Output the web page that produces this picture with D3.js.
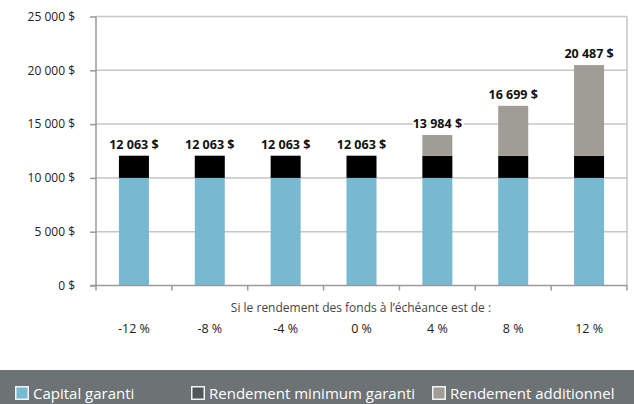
<!DOCTYPE html>
<meta charset="utf-8">
<script src="https://d3js.org/d3.v7.min.js"></script>
<style>
  body { margin: 0; background: #fff; }
  svg { display: block; font-family: "Open Sans", sans-serif; }
</style>
<body>
<div id="canvas"></div>
<script>
// donnees ---------------------------------------------------
var categories = ["-12 %", "-8 %", "-4 %", "0 %", "4 %", "8 %", "12 %"];
var capital = [10000, 10000, 10000, 10000, 10000, 10000, 10000];
var minimum = [2063, 2063, 2063, 2063, 2063, 2063, 2063];
var additionnel = [0, 0, 0, 0, 1921, 4636, 8424];
var totaux = ["12 063 $", "12 063 $", "12 063 $", "12 063 $", "13 984 $", "16 699 $", "20 487 $"];
var yTicks = [0, 5000, 10000, 15000, 20000, 25000];
var series = ["Capital garanti", "Rendement minimum garanti", "Rendement additionnel"];
var couleurs = ["#77b9d1", "#000000", "#a09d96"];
var xTitre = "Si le rendement des fonds à l’échéance est de :";

var width = 634, height = 404;
var svg = d3.select("#canvas").append("svg")
    .attr("width", width).attr("height", height);

var x = d3.scaleBand().domain(categories).range([96, 627]);
var y = d3.scaleLinear().domain([0, 25000]).range([285.5, 16.5]);
var fmt = function(d) { return d3.format(",")(d).replace(/,/g, " ") + " $"; };

// grille -----------------------------------------------------
svg.append("g").selectAll("line")
    .data(yTicks.filter(function(d) { return d > 0; }))
    .enter().append("line")
    .attr("x1", 96).attr("x2", 627)
    .attr("y1", function(d) { return y(d); })
    .attr("y2", function(d) { return y(d); })
    .attr("stroke", "#c6c6c6").attr("stroke-width", 1.5);

// bordure droite
svg.append("line")
    .attr("x1", 627).attr("x2", 627)
    .attr("y1", y(25000)).attr("y2", y(0))
    .attr("stroke", "#c6c6c6").attr("stroke-width", 1.5);

// axe Y
var yAxis = d3.axisLeft(y).tickValues(yTicks).tickSize(6).tickPadding(15).tickFormat(fmt);
var gy = svg.append("g").attr("transform", "translate(96,0)").call(yAxis);
gy.select(".domain").attr("stroke", "#9a9a9a").attr("stroke-width", 1.5).attr("d", "M0," + y(25000) + "V" + y(0));
gy.selectAll(".tick line").attr("stroke", "#9a9a9a").attr("stroke-width", 1.5);
gy.selectAll("text").attr("font-size", 12).attr("fill", "#222").attr("font-family", "Open Sans");

// barres empilees -------------------------------------------
var table = categories.map(function(c, i) {
    return { cat: c, capital: capital[i], minimum: minimum[i], additionnel: additionnel[i] };
});
var stack = d3.stack().keys(["capital", "minimum", "additionnel"])(table);
var bw = 30;
svg.append("g").selectAll("g")
    .data(stack).enter().append("g")
    .attr("fill", function(d, i) { return couleurs[i]; })
    .selectAll("rect")
    .data(function(d) { return d; })
    .enter().append("rect")
    .attr("x", function(d) { return x(d.data.cat) + x.bandwidth() / 2 - bw / 2; })
    .attr("width", bw)
    .attr("y", function(d) { return y(d[1]); })
    .attr("height", function(d) { return y(d[0]) - y(d[1]); });

// axe X
var gx = svg.append("g");
gx.append("line").attr("x1", 90).attr("x2", 627)
    .attr("y1", y(0)).attr("y2", y(0))
    .attr("stroke", "#9a9a9a").attr("stroke-width", 1.5);
gx.selectAll(".tk").data(categories.concat(["fin"])).enter().append("line")
    .attr("x1", function(d, i) { return 96 + i * x.step(); })
    .attr("x2", function(d, i) { return 96 + i * x.step(); })
    .attr("y1", y(0)).attr("y2", y(0) + 5)
    .attr("stroke", "#9a9a9a").attr("stroke-width", 1.5);
gx.selectAll(".cat").data(categories).enter().append("text")
    .attr("x", function(d) { return x(d) + x.bandwidth() / 2; })
    .attr("y", 333)
    .attr("text-anchor", "middle")
    .attr("font-size", 12.5).attr("fill", "#222")
    .text(function(d) { return d; });
svg.append("text")
    .attr("x", 361).attr("y", 312)
    .attr("text-anchor", "middle")
    .attr("font-size", 12).attr("fill", "#444")
    .text(xTitre);

// etiquettes des totaux
svg.append("g").selectAll("text")
    .data(table).enter().append("text")
    .attr("x", function(d) { return x(d.cat) + x.bandwidth() / 2; })
    .attr("y", function(d) { return y(d.capital + d.minimum + d.additionnel) - 7; })
    .attr("text-anchor", "middle")
    .attr("font-size", 12.5).attr("font-weight", "bold").attr("fill", "#111")
    .attr("stroke", "#fff").attr("stroke-width", 4).attr("paint-order", "stroke")
    .text(function(d, i) { return totaux[i]; });

// legende ---------------------------------------------------
svg.append("rect").attr("x", 0).attr("y", 370).attr("width", width).attr("height", 34)
    .attr("fill", "#6d7275");
var legX = [15, 191, 432];
var legFill = ["#77b9d1", "#4f5757", "#a09d96"];
var leg = svg.append("g").selectAll("g").data(series).enter().append("g")
    .attr("transform", function(d, i) { return "translate(" + legX[i] + ",386)"; });
leg.append("rect").attr("x", 0.75).attr("y", 0.75).attr("width", 12.5).attr("height", 12.5)
    .attr("fill", function(d, i) { return legFill[i]; })
    .attr("stroke", "#f2f2f2").attr("stroke-width", 1.5);
leg.append("text").attr("x", 18).attr("y", 13)
    .attr("font-size", 15).attr("fill", "#fff")
    .text(function(d) { return d; });
</script>
</body>
